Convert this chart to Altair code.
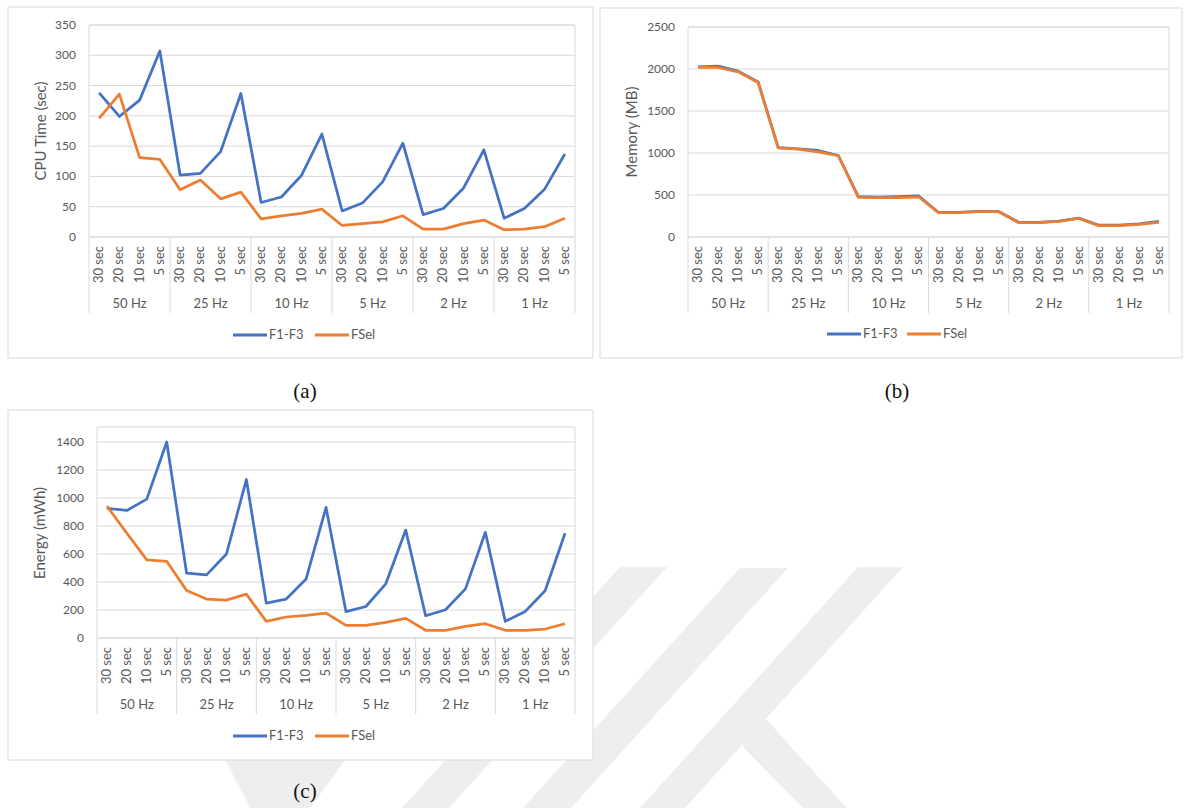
import altair as alt
import pandas as pd

# Category levels of the x axis: sampling rate (outer) x window length (inner)
rates = ["50 Hz", "25 Hz", "10 Hz", "5 Hz", "2 Hz", "1 Hz"]
windows = ["30 sec", "20 sec", "10 sec", "5 sec"]
series_names = ["F1-F3", "FSel"]
series_colors = ["#4472C4", "#ED7D31"]

# (a) CPU time in seconds
cpu_f1f3 = [238, 199, 226, 307, 102, 105, 141, 237, 57, 66, 102, 170,
            43, 56, 91, 155, 37, 47, 81, 144, 31, 47, 79, 137]
cpu_fsel = [196, 236, 131, 128, 78, 94, 63, 74, 30, 35, 39, 46,
            19, 22, 25, 35, 13, 13, 22, 28, 12, 13, 17, 31]
cpu_ticks = [0, 50, 100, 150, 200, 250, 300, 350]

# (b) Memory in MB
mem_f1f3 = [2025, 2035, 1975, 1845, 1065, 1050, 1030, 970, 480, 475, 480, 490,
            292, 292, 305, 305, 175, 175, 190, 225, 140, 140, 155, 185]
mem_fsel = [2018, 2018, 1966, 1839, 1062, 1046, 1014, 967, 472, 468, 468, 479,
            289, 289, 301, 301, 170, 170, 186, 222, 134, 134, 151, 175]
mem_ticks = [0, 500, 1000, 1500, 2000, 2500]

# (c) Energy in mWh
energy_f1f3 = [926, 911, 992, 1400, 463, 451, 600, 1132, 249, 278, 422, 933,
               188, 225, 387, 771, 159, 202, 351, 755, 119, 190, 337, 748]
energy_fsel = [942, 748, 558, 548, 339, 278, 271, 313, 119, 150, 161, 178,
               90, 90, 112, 140, 55, 55, 83, 102, 55, 55, 64, 102]
energy_ticks = [0, 200, 400, 600, 800, 1000, 1200, 1400]

FONT = "Lato"
TEXT = "#595959"
GRID = "#D9D9D9"
CAPTION_FONT = "Liberation Serif"
WATERMARK = "#EEEEEE"

n_win = len(windows)
n_cat = len(rates) * n_win

cats = pd.DataFrame({
    "idx": list(range(n_cat)),
    "window": [w for r in rates for w in windows],
    "rate": [r for r in rates for w in windows],
})
groups = pd.DataFrame({
    "rate": rates,
    "mid": [g * n_win + (n_win - 1) / 2 for g in range(len(rates))],
})
group_edges = pd.DataFrame({"b": [g * n_win - 0.5 for g in range(len(rates) + 1)]})
one = pd.DataFrame({"k": [0]})


def rect(x1, x2, y1, y2, **style):
    return alt.Chart(one).mark_rect(**style).encode(
        x=alt.value(x1), x2=alt.value(x2), y=alt.value(y1), y2=alt.value(y2))


def panel(f1, fsel, tick_vals, ytitle, plot, frame, title_xy, legend, caption, cap_xy):
    """One Excel-style line chart.

    plot = (left, right, top, bottom, pixel row of the top tick, value of the top tick)
    """
    px1, px2, py1, py2, ytop_px, ytop = plot
    xs = alt.Scale(domain=[-0.5, n_cat - 0.5], range=[px1, px2], nice=False, zero=False)
    ys = alt.Scale(domain=[0, ytop], range=[py2, ytop_px], nice=False, zero=False)
    long = pd.DataFrame({
        "idx": list(range(n_cat)) * 2,
        "series": [series_names[0]] * n_cat + [series_names[1]] * n_cat,
        "value": list(f1) + list(fsel),
    })
    ticks = pd.DataFrame({"value": tick_vals})
    layers = []

    # chart area with its light border
    fx1, fx2, fy1, fy2 = frame
    layers.append(rect(fx1, fx2, fy1, fy2, fill="white", stroke=GRID, strokeWidth=1))

    # horizontal gridlines
    layers.append(alt.Chart(ticks).mark_rule(color=GRID, strokeWidth=1).encode(
        y=alt.Y("value:Q", scale=ys, axis=None),
        x=alt.value(px1), x2=alt.value(px2)))

    # value labels of the vertical axis
    layers.append(alt.Chart(ticks).mark_text(
        align="right", baseline="middle", font=FONT, fontSize=12, color=TEXT
    ).encode(y=alt.Y("value:Q", scale=ys, axis=None), x=alt.value(px1 - 13), text="value:Q"))

    # vertical axis title
    layers.append(alt.Chart(one).mark_text(
        angle=270, align="center", baseline="middle", font=FONT, fontSize=15, color=TEXT
    ).encode(x=alt.value(title_xy[0]), y=alt.value(title_xy[1]), text=alt.value(ytitle)))

    # plot area border
    layers.append(rect(px1, px2, py1, py2, fillOpacity=0, stroke=GRID, strokeWidth=1))

    # dividers of the two-level category axis
    layers.append(alt.Chart(group_edges).mark_rule(color=GRID, strokeWidth=1).encode(
        x=alt.X("b:Q", scale=xs, axis=None),
        y=alt.value(py2), y2=alt.value(py2 + 76)))

    # inner level: window lengths
    layers.append(alt.Chart(cats).mark_text(
        angle=270, align="right", baseline="middle", font=FONT, fontSize=13, color=TEXT
    ).encode(x=alt.X("idx:Q", scale=xs, axis=None), y=alt.value(py2 + 9), text="window:N"))

    # outer level: sampling rates
    layers.append(alt.Chart(groups).mark_text(
        align="center", baseline="middle", font=FONT, fontSize=13, color=TEXT
    ).encode(x=alt.X("mid:Q", scale=xs, axis=None), y=alt.value(py2 + 67), text="rate:N"))

    # the two series
    layers.append(alt.Chart(long).mark_line(strokeWidth=2.75, strokeJoin="round").encode(
        x=alt.X("idx:Q", scale=xs, axis=None),
        y=alt.Y("value:Q", scale=ys, axis=None),
        color=alt.Color("series:N", scale=alt.Scale(domain=series_names, range=series_colors),
                        legend=None)))

    # legend
    lx_list, ly = legend
    for name, col, lx in zip(series_names, series_colors, lx_list):
        layers.append(alt.Chart(one).mark_rule(strokeWidth=3, color=col).encode(
            x=alt.value(lx), x2=alt.value(lx + 34), y=alt.value(ly)))
        layers.append(alt.Chart(one).mark_text(
            align="left", baseline="middle", font=FONT, fontSize=13, color=TEXT
        ).encode(x=alt.value(lx + 36), y=alt.value(ly), text=alt.value(name)))

    # panel caption
    layers.append(alt.Chart(one).mark_text(
        align="center", baseline="middle", font=CAPTION_FONT, fontSize=21, color="#111111"
    ).encode(x=alt.value(cap_xy[0]), y=alt.value(cap_xy[1]), text=alt.value(caption)))

    return layers


# faint diagonal backdrop stripes (pixel polygons, one row per edge point)
stripes = pd.DataFrame({
    "band": ["s1", "s1", "s2", "s2", "s3", "s3", "s4", "s4", "s4", "s5", "s5"],
    "y": [567, 808, 568, 808, 567, 808, 720, 747, 808, 740, 808],
    "xl": [620, 402, 740, 523, 858, 640, 745, 743, 803, 215, 250],
    "xr": [667, 449, 788, 571, 903, 685, 767, 791, 847, 360, 310],
})
backdrop = alt.Chart(stripes).mark_area(orient="horizontal", color=WATERMARK).encode(
    y=alt.Y("y:Q", scale=None), x=alt.X("xl:Q", scale=None), x2="xr:Q", detail="band:N")

all_layers = [backdrop]
all_layers += panel(cpu_f1f3, cpu_fsel, cpu_ticks, "CPU Time (sec)",
                    plot=(89, 575, 25, 237, 25, 350), frame=(8, 593, 7, 358),
                    title_xy=(41, 131), legend=((233, 315), 335),
                    caption="(a)", cap_xy=(305, 392))
all_layers += panel(mem_f1f3, mem_fsel, mem_ticks, "Memory (MB)",
                    plot=(688, 1169, 27, 237, 27, 2500), frame=(600, 1182, 8, 358),
                    title_xy=(632, 132), legend=((827, 907), 334),
                    caption="(b)", cap_xy=(897, 392))
# in panel (c) the top tick (1400) sits below the plot area's upper edge
all_layers += panel(energy_f1f3, energy_fsel, energy_ticks, "Energy (mWh)",
                    plot=(97, 575, 427, 638, 442, 1400), frame=(8, 593, 410, 760),
                    title_xy=(40, 533), legend=((233, 315), 736),
                    caption="(c)", cap_xy=(305, 792))

chart = alt.layer(*all_layers).resolve_scale(
    x="independent", y="independent", color="independent"
).properties(
    width=1184, height=808, padding=0, autosize=alt.AutoSizeParams(type="none")
).configure_view(strokeWidth=0)

chart.save("out.html", embed_options={"renderer": "svg", "actions": False})
